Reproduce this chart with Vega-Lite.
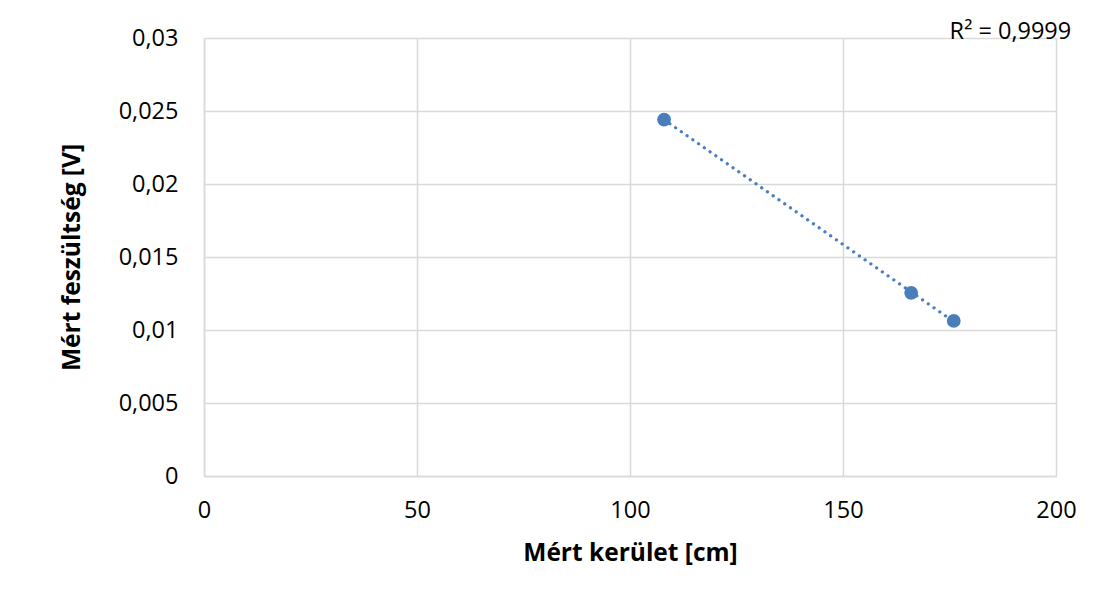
{
  "$schema": "https://vega.github.io/schema/vega-lite/v6.json",
  "autosize": {"type": "none"},
  "width": 852,
  "height": 438,
  "padding": {"left": 204, "top": 38, "right": 39, "bottom": 123},
  "background": "white",
  "config": {
    "view": {"stroke": null},
    "font": "Open Sans",
    "axis": {
      "labelFont": "Open Sans",
      "labelFontSize": 23.5,
      "labelColor": "#000000",
      "titleFont": "Open Sans",
      "titleFontSize": 24.5,
      "titleFontWeight": "bold",
      "titleColor": "#000000",
      "gridColor": "#d9d9d9",
      "gridWidth": 1.5,
      "domainColor": "#d9d9d9",
      "domainWidth": 1.5,
      "ticks": false
    }
  },
  "data": {
    "values": [
      {"kerulet": 108, "feszultseg": 0.02441},
      {"kerulet": 166, "feszultseg": 0.01255},
      {"kerulet": 176, "feszultseg": 0.01062}
    ]
  },
  "layer": [
    {
      "mark": {"type": "line", "color": "#4a7ebb", "strokeWidth": 3.2, "strokeCap": "round", "strokeDash": [0.1, 6.9]},
      "transform": [{"regression": "feszultseg", "on": "kerulet"}],
      "encoding": {
        "x": {"field": "kerulet", "type": "quantitative"},
        "y": {"field": "feszultseg", "type": "quantitative"}
      }
    },
    {
      "mark": {"type": "point", "filled": true, "opacity": 1, "color": "#4a7ebb", "size": 190},
      "encoding": {
        "x": {
          "field": "kerulet",
          "type": "quantitative",
          "scale": {"domain": [0, 200], "nice": false},
          "axis": {"values": [0, 50, 100, 150, 200], "labelPadding": 22, "title": "Mért kerület [cm]", "titlePadding": 20, "labelFlush": false}
        },
        "y": {
          "field": "feszultseg",
          "type": "quantitative",
          "scale": {"domain": [0, 0.03], "nice": false},
          "axis": {"values": [0, 0.005, 0.01, 0.015, 0.02, 0.025, 0.03], "format": "~g", "labelExpr": "replace(datum.label, '.', ',')", "labelPadding": 26, "title": "Mért feszültség [V]", "titlePadding": 34, "labelFlush": false}
        }
      }
    },
    {
      "data": {"values": [{"kerulet": 189.3, "feszultseg": 0.0304, "label": "R² = 0,9999"}]},
      "mark": {"type": "text", "fontSize": 23.5, "font": "Open Sans", "color": "#000000", "align": "center", "baseline": "middle", "clip": false},
      "encoding": {
        "x": {"field": "kerulet", "type": "quantitative"},
        "y": {"field": "feszultseg", "type": "quantitative"},
        "text": {"field": "label"}
      }
    }
  ]
}
